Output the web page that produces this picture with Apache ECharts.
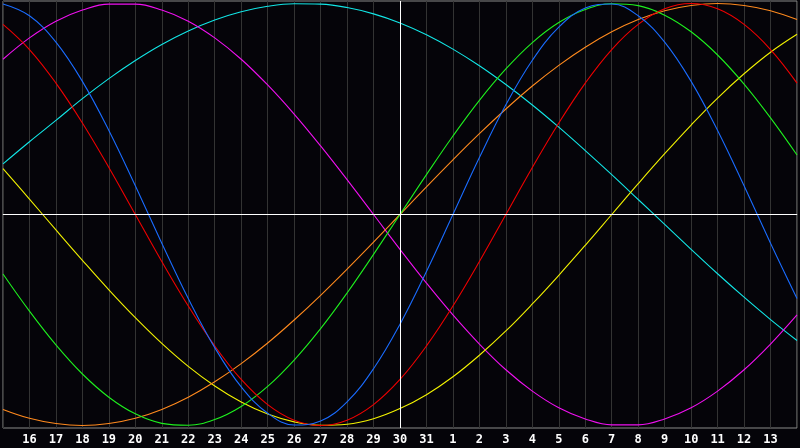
<!DOCTYPE html>
<html>
<head>
<meta charset="utf-8">
<title>Biorhythm</title>
<script src="https://cdn.jsdelivr.net/npm/echarts@6/dist/echarts.min.js"></script>
<style>
  html, body { margin: 0; padding: 0; background: #050409; }
  #chart { width: 800px; height: 448px; }
</style>
</head>
<body>
<div id="chart"></div>
<script>
// day labels, 15th to the 14th of next month
const days = ['15', '16', '17', '18', '19', '20', '21', '22', '23', '24', '25', '26', '27', '28', '29', '30',
  '31', '1', '2', '3', '4', '5', '6', '7', '8', '9', '10', '11', '12', '13', '14']
const today = '30'

// cycle values per day (-1 .. 1)
const physical = [0.998, 0.942, 0.817, 0.631, 0.398, 0.136, -0.136, -0.398, -0.631, -0.817, -0.942, -0.998, -0.979, -0.888, -0.731, -0.520,
  -0.270, 0, 0.270, 0.520, 0.731, 0.888, 0.979, 0.998, 0.942, 0.817, 0.631, 0.398, 0.136, -0.136, -0.398]
const emotional = [0.901, 0.782, 0.623, 0.434, 0.223, 0, -0.223, -0.434, -0.623, -0.782, -0.901, -0.975, -1, -0.975, -0.901, -0.782,
  -0.623, -0.434, -0.223, 0, 0.223, 0.434, 0.623, 0.782, 0.901, 0.975, 1, 0.975, 0.901, 0.782, 0.623]
const intellectual = [-0.282, -0.458, -0.618, -0.756, -0.866, -0.945, -0.990, -0.999, -0.972, -0.910, -0.815, -0.690, -0.541, -0.372, -0.189, 0,
  0.189, 0.372, 0.541, 0.690, 0.815, 0.910, 0.972, 0.999, 0.990, 0.945, 0.866, 0.756, 0.618, 0.458, 0.282]
const intuitive = [0.736, 0.837, 0.916, 0.969, 0.997, 0.997, 0.969, 0.916, 0.837, 0.736, 0.614, 0.476, 0.325, 0.165, 0, -0.165,
  -0.325, -0.476, -0.614, -0.736, -0.837, -0.916, -0.969, -0.997, -0.997, -0.969, -0.916, -0.837, -0.736, -0.614, -0.476]
const aesthetic = [0.217, 0.073, -0.073, -0.217, -0.357, -0.489, -0.611, -0.720, -0.813, -0.889, -0.946, -0.983, -0.999, -0.994, -0.968, -0.920,
  -0.854, -0.769, -0.667, -0.552, -0.424, -0.288, -0.146, 0, 0.146, 0.288, 0.424, 0.552, 0.667, 0.769, 0.854]
const awareness = [-0.924, -0.966, -0.991, -1, -0.991, -0.966, -0.924, -0.866, -0.793, -0.707, -0.609, -0.5, -0.383, -0.259, -0.131, 0,
  0.131, 0.259, 0.383, 0.5, 0.609, 0.707, 0.793, 0.866, 0.924, 0.966, 0.991, 1, 0.991, 0.966, 0.924]
const spiritual = [0.240, 0.345, 0.446, 0.549, 0.644, 0.730, 0.806, 0.870, 0.922, 0.961, 0.987, 0.999, 0.997, 0.981, 0.951, 0.908,
  0.852, 0.784, 0.705, 0.616, 0.519, 0.414, 0.303, 0.189, 0.071, -0.047, -0.165, -0.281, -0.392, -0.498, -0.597]

const chart = echarts.init(document.getElementById('chart'))

function cycle(name, data, color) {
  return {
    name: name,
    type: 'line',
    data: data,
    smooth: 0.4,
    showSymbol: false,
    lineStyle: { color: color, width: 1.1 },
    itemStyle: { color: color }
  }
}

const series = [
  cycle('spiritual', spiritual, '#12e6e6'),
  cycle('intuitive', intuitive, '#f010f0'),
  cycle('aesthetic', aesthetic, '#f2f200'),
  cycle('awareness', awareness, '#ff8a1e'),
  cycle('intellectual', intellectual, '#1ef01e'),
  cycle('emotional', emotional, '#f00000'),
  cycle('physical', physical, '#1a6cff')
]

// white cross through the zero line and today
series[0].markLine = {
  silent: true,
  symbol: 'none',
  label: { show: false },
  lineStyle: { color: '#ffffff', width: 1, type: 'solid' },
  data: [{ yAxis: 0 }, { xAxis: today }]
}

chart.setOption({
  animation: false,
  backgroundColor: '#050409',
  grid: {
    left: 1,
    right: 1,
    top: 1,
    bottom: 20,
    show: true,
    borderColor: '#8a8a8a',
    borderWidth: 1,
    backgroundColor: '#050409'
  },
  xAxis: {
    type: 'category',
    data: days,
    boundaryGap: false,
    axisLine: { lineStyle: { color: '#8a8a8a' } },
    axisTick: { show: false },
    axisLabel: {
      interval: 0,
      color: '#ffffff',
      fontFamily: 'DejaVu Sans Mono',
      fontWeight: 'bold',
      fontSize: 12,
      margin: 6,
      formatter: function (v, i) {
        return i === 0 || i === days.length - 1 ? '' : v
      }
    },
    splitLine: {
      show: true,
      interval: 0,
      lineStyle: { color: '#333333', width: 1 }
    }
  },
  yAxis: {
    type: 'value',
    min: -1.012,
    max: 1.012,
    show: false,
    splitLine: { show: false }
  },
  series: series
})
</script>
</body>
</html>
